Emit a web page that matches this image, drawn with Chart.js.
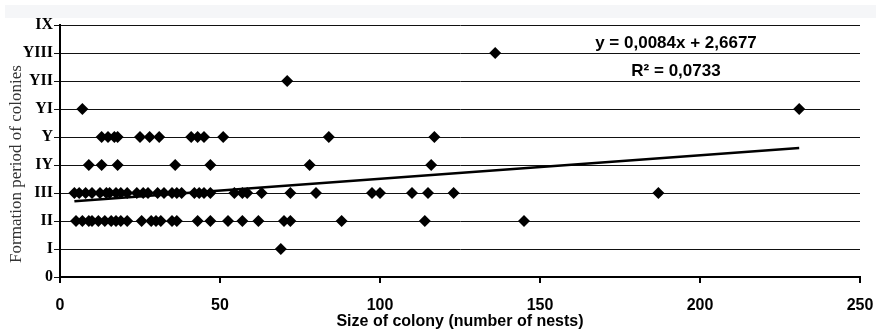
<!DOCTYPE html>
<html>
<head>
<meta charset="utf-8">
<script src="https://cdn.jsdelivr.net/npm/chart.js@4.4.1/dist/chart.umd.min.js"></script>
<style>
  html, body { margin: 0; padding: 0; background: #fff; }
  #wrap { position: relative; width: 876px; height: 331px; }
  #band { position: absolute; left: 5px; top: 5px; width: 871px; height: 13px; background: #f5f6f8; }
  canvas { position: absolute; left: 0; top: 0; }
</style>
</head>
<body>
<div id="wrap">
  <div id="band"></div>
  <canvas id="colonyChart" width="876" height="331"></canvas>
</div>
<script>
// Formation period labels (0 .. IX)
const periodLabels = ['0', 'I', 'II', 'III', 'IY', 'Y', 'YI', 'YII', 'YIII', 'IX'];
const xTicks = [0, 50, 100, 150, 200, 250];

// colony sizes (number of nests) for each formation period
const sizesI = [69];
const sizesII = [5, 7, 9, 10, 12, 14, 16, 17.5, 19, 21, 25.5, 28.5, 30, 31.5, 35, 36.5,
  43, 47, 52.5, 57, 62, 70, 72, 88, 114, 145];
const sizesIII = [4.5, 6, 8, 10, 12.5, 14.5, 15.5, 17.5, 19, 21, 24, 26, 27.5, 30.5, 32.5,
  35, 36.5, 38, 42, 43.5, 45, 47, 54.5, 57, 58.5, 63, 72, 80, 97.5, 100, 110, 115, 123, 187];
const sizesIY = [9, 13, 18, 36, 47, 78, 116];
const sizesY = [13, 15, 17, 18, 25, 28, 31, 41, 43, 45, 51, 84, 117];
const sizesYI = [7, 231];
const sizesYII = [71];
const sizesYIII = [136];

// linear trend as printed on the chart
const trendSlope = 0.0084;
const trendIntercept = 2.6677;
const trendText = ['y = 0,0084x + 2,6677', 'R\u00b2 = 0,0733'];
const yTitle = 'Formation period of colonies';

const groups = [[1, sizesI], [2, sizesII], [3, sizesIII], [4, sizesIY], [5, sizesY],
  [6, sizesYI], [7, sizesYII], [8, sizesYIII]];
const points = [];
groups.forEach(([period, sizes]) => sizes.forEach(s => points.push({ x: s, y: period })));

const allX = points.map(p => p.x);
const xMin = Math.min(...allX);
const xMax = Math.max(...allX);
const trendPoints = [
  { x: xMin, y: trendSlope * xMin + trendIntercept },
  { x: xMax, y: trendSlope * xMax + trendIntercept }
];

// regression equation in the upper right + the rotated y title
const extraText = {
  id: 'extraText',
  afterDatasetsDraw(chart) {
    const { ctx, scales } = chart;
    ctx.save();
    ctx.fillStyle = '#000';
    ctx.font = "bold 17px 'Liberation Sans', Arial, sans-serif";
    ctx.textAlign = 'center';
    ctx.textBaseline = 'middle';
    const cx = scales.x.getPixelForValue(192.5);
    ctx.fillText(trendText[0], cx, scales.y.getPixelForValue(8.33));
    ctx.fillText(trendText[1], cx, scales.y.getPixelForValue(7.33));

    ctx.translate(17, 164);
    ctx.rotate(-Math.PI / 2);
    ctx.fillStyle = '#333';
    ctx.font = "17px 'Liberation Serif', 'Times New Roman', serif";
    ctx.fillText(yTitle, 0, 0);
    ctx.restore();
  }
};

const ctx = document.getElementById('colonyChart').getContext('2d');
new Chart(ctx, {
  type: 'scatter',
  plugins: [extraText],
  data: {
    datasets: [
      {
        label: 'Colonies',
        data: points,
        pointStyle: 'rectRot',
        pointRadius: 6,
        pointHoverRadius: 6,
        backgroundColor: '#000',
        borderColor: '#000',
        borderWidth: 0
      },
      {
        label: 'Trend',
        type: 'line',
        data: trendPoints,
        borderColor: '#000',
        borderWidth: 2.5,
        pointRadius: 0,
        fill: false
      }
    ]
  },
  options: {
    responsive: false,
    animation: false,
    layout: { padding: { top: 25, right: 16, left: 0, bottom: 0 } },
    plugins: {
      legend: { display: false },
      tooltip: { enabled: false }
    },
    scales: {
      x: {
        type: 'linear',
        min: 0,
        max: 250,
        afterBuildTicks: scale => { scale.ticks = xTicks.map(v => ({ value: v })); },
        afterFit: scale => {
          scale.height = 54;
          scale.paddingLeft = 0;
          scale.paddingRight = 0;
        },
        border: { color: '#000', width: 2 },
        grid: { drawOnChartArea: false, drawTicks: true, tickLength: 6, color: '#000', lineWidth: 2 },
        ticks: {
          color: '#000',
          padding: 13,
          font: { family: "'Liberation Sans', Arial, sans-serif", size: 16, weight: 'bold' }
        },
        title: {
          display: true,
          text: 'Size of colony (number of nests)',
          color: '#000',
          padding: { top: 0, bottom: 0 },
          font: { family: "'Liberation Sans', Arial, sans-serif", size: 16, weight: 'bold' }
        }
      },
      y: {
        type: 'linear',
        min: 0,
        max: 9,
        afterBuildTicks: scale => { scale.ticks = periodLabels.map((_, i) => ({ value: i })); },
        afterFit: scale => { scale.width = 60; },
        border: { color: '#000', width: 2 },
        grid: { color: '#111', lineWidth: 1, tickLength: 6, drawTicks: true },
        ticks: {
          color: '#000',
          padding: 1,
          callback: v => periodLabels[v],
          font: { family: "'Liberation Serif', 'Times New Roman', serif", size: 16, weight: 'bold' }
        }
      }
    }
  }
});
</script>
</body>
</html>
